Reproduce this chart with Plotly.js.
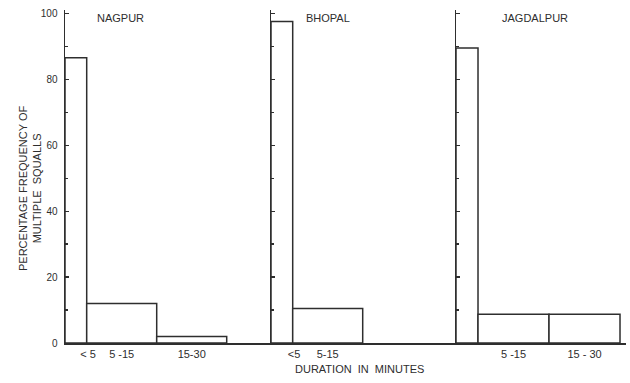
<!DOCTYPE html>
<html>
<head>
<meta charset="utf-8">
<script src="https://cdn.plot.ly/plotly-3.0.1.min.js"></script>
<style>html,body{margin:0;padding:0;background:#fff;}#chart{width:630px;height:383px;}</style>
</head>
<body>
<div id="chart"></div>
<script>
// ---- data ----
const stations = ['NAGPUR', 'BHOPAL', 'JAGDALPUR'];
const categories = ['< 5', '5-15', '15-30'];
const nagpurValues = [86.5, 12, 2];
const bhopalValues = [97.5, 10.5];
const jagdalpurValues = [89.5, 8.7, 8.7];
const nagpurTickLabels = ['< 5', '5 -15', '15-30'];
const bhopalTickLabels = ['<5', '5-15'];
const jagdalpurTickLabels = ['', '5 -15', '15 - 30'];
const yTickVals = [0, 20, 40, 60, 80, 100];

// ---- style / geometry ----
const W = 630, H = 383;
const ink = '#2e2e2e';
const font = 'Liberation Sans, Arial, sans-serif';
const panelPx = [[65, 271], [271, 456], [456, 626]];
const unitPx = [70, 70, 71];
const barWidths = [0.31, 1, 1];
const yBottomPx = 343, yTopPx = 10;

const panels = [
  {name: stations[0], vals: nagpurValues, ticks: nagpurTickLabels},
  {name: stations[1], vals: bhopalValues, ticks: bhopalTickLabels},
  {name: stations[2], vals: jagdalpurValues, ticks: jagdalpurTickLabels}
];

const traces = [];
const layout = {
  width: W, height: H,
  margin: {l: 0, r: 0, t: 0, b: 0},
  paper_bgcolor: '#ffffff', plot_bgcolor: 'rgba(0,0,0,0)',
  showlegend: false,
  font: {family: font, color: ink, size: 11},
  annotations: []
};

panels.forEach((p, i) => {
  const centers = [], widths = [], tickvals = [];
  let edge = 0;
  p.vals.forEach((v, k) => {
    const w = barWidths[k];
    centers.push(edge + w / 2);
    widths.push(w);
    tickvals.push(k === 0 ? edge + w + 0.02 : edge + w / 2);
    edge += w;
  });
  const sfx = i === 0 ? '' : String(i + 1);
  traces.push({
    type: 'bar',
    x: centers, y: p.vals, width: widths,
    text: categories.slice(0, p.vals.length),
    hoverinfo: 'y+text',
    textposition: 'none',
    xaxis: 'x' + sfx, yaxis: 'y' + sfx,
    marker: {color: '#ffffff', line: {color: ink, width: 1.5}}
  });
  const d0 = panelPx[i][0] / W, d1 = panelPx[i][1] / W;
  layout['xaxis' + sfx] = {
    domain: [d0, d1],
    range: [0, (panelPx[i][1] - panelPx[i][0]) / unitPx[i]],
    anchor: 'y' + sfx,
    showline: true, linecolor: ink, linewidth: 1.5,
    showgrid: false, zeroline: false,
    ticks: '', tickvals: tickvals, ticktext: p.ticks.slice(0, p.vals.length),
    tickfont: {family: font, size: 11, color: ink},
    fixedrange: true
  };
  layout['yaxis' + sfx] = {
    domain: [(H - yBottomPx) / H, (H - yTopPx) / H],
    range: [0, 101],
    anchor: 'x' + sfx,
    showline: true, linecolor: ink, linewidth: 1.5,
    showgrid: false, zeroline: false,
    ticks: 'inside', ticklen: 4, tickcolor: ink, tickwidth: 1.2,
    tickvals: yTickVals,
    showticklabels: i === 0,
    ticklabelstandoff: 4,
    tickfont: {family: font, size: 10, color: ink},
    minor: {ticks: 'inside', ticklen: 3, tickcolor: ink, tickwidth: 1.2, dtick: 10, tick0: 0, showgrid: false},
    fixedrange: true
  };
  const titleX = [120, 328, 535][i];
  layout.annotations.push({
    text: p.name, xref: 'paper', yref: 'paper',
    x: titleX / W, y: (H - 18) / H, xanchor: 'center', yanchor: 'middle',
    showarrow: false, font: {family: font, size: 11, color: ink}
  });
});

layout.annotations.push({
  text: 'DURATION  IN  MINUTES', xref: 'paper', yref: 'paper',
  x: 359 / W, y: (H - 369) / H, xanchor: 'center', yanchor: 'middle',
  showarrow: false, font: {family: font, size: 11, color: ink}
});
layout.annotations.push({
  text: 'PERCENTAGE FREQUENCY OF<br>MULTIPLE  SQUALLS', xref: 'paper', yref: 'paper',
  x: 30 / W, y: (H - 188) / H, xanchor: 'center', yanchor: 'middle',
  textangle: -90, showarrow: false,
  font: {family: font, size: 11, color: ink}
});

Plotly.newPlot('chart', traces, layout, {displayModeBar: false, staticPlot: true});
</script>
</body>
</html>
